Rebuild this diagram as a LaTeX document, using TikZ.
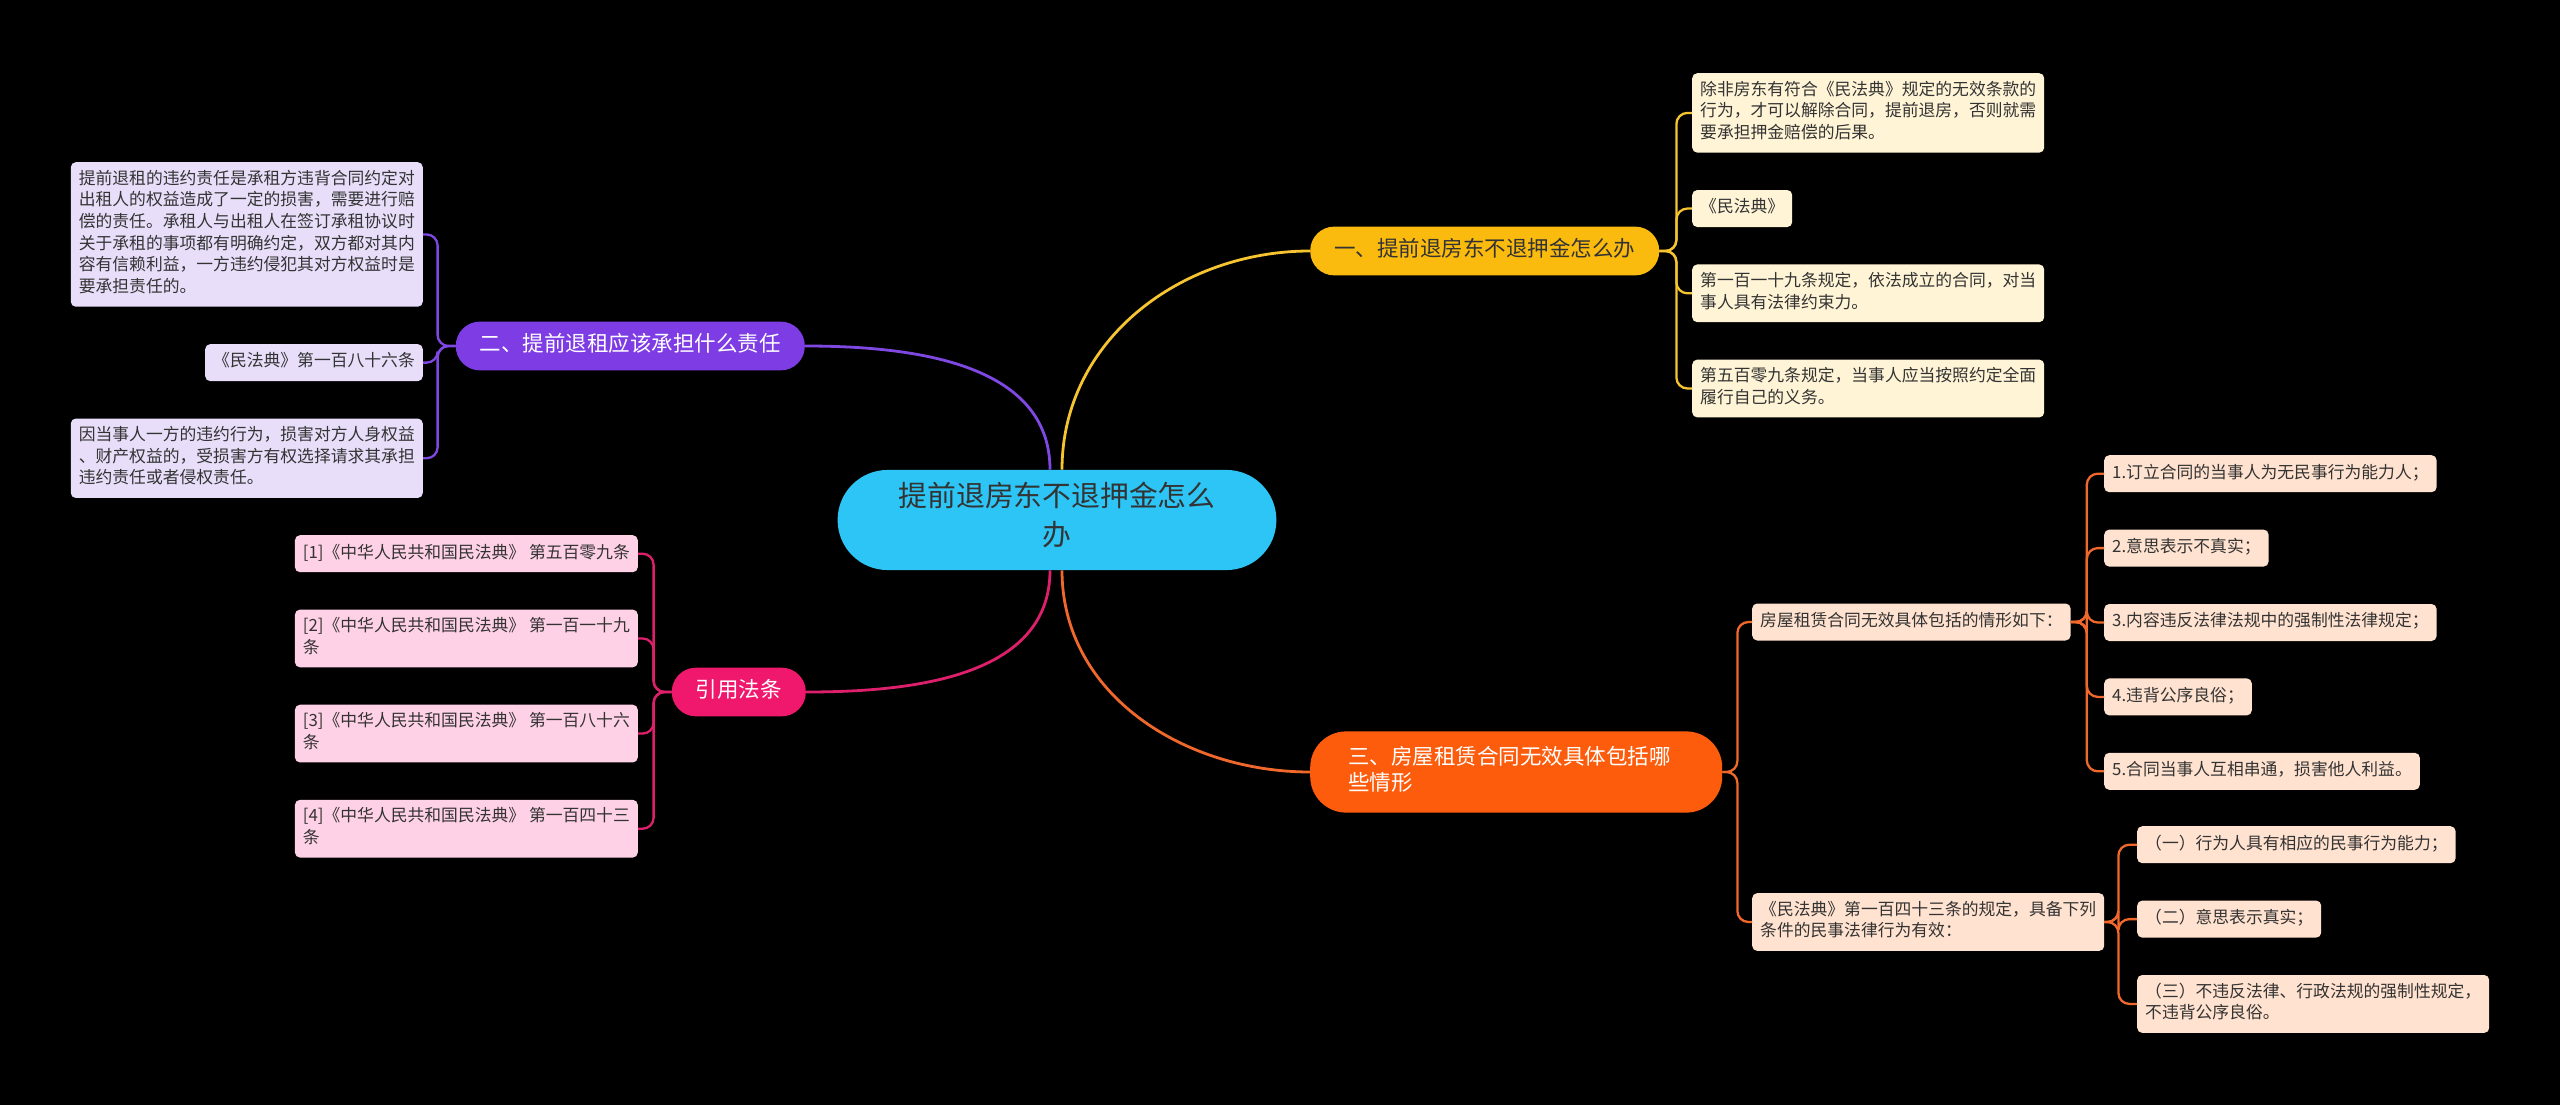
\documentclass[tikz,border=0pt]{standalone}
\usepackage{fontspec}
\newfontfamily\zhfont{Noto Sans CJK SC}
\usepackage{xcolor}
\usepackage{tikz}
\usetikzlibrary{positioning}
\definecolor{rootblue}{RGB}{44,197,246}
\definecolor{ygold}{RGB}{250,186,14}
\definecolor{yline}{RGB}{246,196,48}
\definecolor{ycream}{RGB}{255,244,214}
\definecolor{ppurple}{RGB}{125,60,228}
\definecolor{pline}{RGB}{128,72,226}
\definecolor{plav}{RGB}{232,222,250}
\definecolor{kpink}{RGB}{240,24,108}
\definecolor{kline}{RGB}{222,32,108}
\definecolor{kleaf}{RGB}{255,209,230}
\definecolor{oorange}{RGB}{252,92,12}
\definecolor{oline}{RGB}{240,104,44}
\definecolor{opeach}{RGB}{255,226,207}
\definecolor{darktext}{RGB}{51,51,51}
\tikzset{
  rootnode/.style={rectangle, fill=rootblue, rounded corners=50pt, align=center, text=darktext, font=\zhfont\fontsize{28.8}{39}\selectfont, inner xsep=61pt, inner ysep=12.5pt, execute at begin node=\strut, execute at end node=\strut},
  branch/.style={rectangle, rounded corners=24pt, align=left, font=\zhfont\fontsize{21.5}{25}\selectfont, inner xsep=24pt, inner ysep=11.5pt, execute at begin node=\strut, execute at end node=\strut},
  leaf/.style={rectangle, rounded corners=5pt, align=left, text=darktext, font=\zhfont\fontsize{16.8}{21.7}\selectfont, inner xsep=8pt, inner ysep=7.65pt, execute at begin node=\strut, execute at end node=\strut},
  yleaf/.style={leaf, fill=ycream},
  pleaf/.style={leaf, fill=plav},
  kleaf/.style={leaf, fill=kleaf},
  oleaf/.style={leaf, fill=opeach},
  link/.style={line width=2.3pt, rounded corners=11pt},
  curve/.style={line width=2.8pt},
}

\begin{document}
\begin{tikzpicture}[x=1pt, y=1pt]
  \useasboundingbox (0,0) rectangle (2560,-1105);
  \fill[black] (0,0) rectangle (2560,-1105);

  \node[rootnode] (root) at (1057,-520) {提前退房东不退押金怎么\\办};

  \node[branch, fill=ygold, text=darktext, anchor=west] (one) at (1310,-251) {一、提前退房东不退押金怎么办};
  \node[branch, fill=ppurple, text=white, anchor=east] (two) at (805,-346) {二、提前退租应该承担什么责任};
  \node[branch, fill=kpink, text=white, anchor=east] (cite) at (806,-692) {引用法条};
  \node[branch, fill=oorange, text=white, anchor=west, rounded corners=36pt, text width=336pt, inner xsep=38pt, inner ysep=14.5pt] (three) at (1310,-772) {三、房屋租赁合同无效具体包括哪\\些情形};

  \node[yleaf, anchor=north west] (y1) at (1692,-73) {除非房东有符合《民法典》规定的无效条款的\\行为，才可以解除合同，提前退房，否则就需\\要承担押金赔偿的后果。};
  \node[yleaf, below=37pt of y1.south west, anchor=north west] (y2) {《民法典》};
  \node[yleaf, below=37pt of y2.south west, anchor=north west] (y3) {第一百一十九条规定，依法成立的合同，对当\\事人具有法律约束力。};
  \node[yleaf, below=37pt of y3.south west, anchor=north west] (y4) {第五百零九条规定，当事人应当按照约定全面\\履行自己的义务。};

  \node[pleaf, anchor=north east] (p1) at (423,-162) {提前退租的违约责任是承租方违背合同约定对\\出租人的权益造成了一定的损害，需要进行赔\\偿的责任。承租人与出租人在签订承租协议时\\关于承租的事项都有明确约定，双方都对其内\\容有信赖利益，一方违约侵犯其对方权益时是\\要承担责任的。};
  \node[pleaf, below=37pt of p1.south east, anchor=north east] (p2) {《民法典》第一百八十六条};
  \node[pleaf, below=37pt of p2.south east, anchor=north east] (p3) {因当事人一方的违约行为，损害对方人身权益\\、财产权益的，受损害方有权选择请求其承担\\违约责任或者侵权责任。};

  \node[kleaf, anchor=north east] (ref1) at (638,-535) {[1]《中华人民共和国民法典》 第五百零九条};
  \node[kleaf, below=37pt of ref1.south east, anchor=north east] (ref2) {[2]《中华人民共和国民法典》 第一百一十九\\条};
  \node[kleaf, below=37pt of ref2.south east, anchor=north east] (ref3) {[3]《中华人民共和国民法典》 第一百八十六\\条};
  \node[kleaf, below=37pt of ref3.south east, anchor=north east] (ref4) {[4]《中华人民共和国民法典》 第一百四十三\\条};

  \node[oleaf, anchor=west] (t1) at (1752,-622) {房屋租赁合同无效具体包括的情形如下：};
  \node[oleaf, anchor=west] (t2) at (1752,-922) {《民法典》第一百四十三条的规定，具备下列\\条件的民事法律行为有效：};

  \node[oleaf, anchor=north west] (r1) at (2104,-455) {1.订立合同的当事人为无民事行为能力人；};
  \node[oleaf, below=37pt of r1.south west, anchor=north west] (r2) {2.意思表示不真实；};
  \node[oleaf, below=37pt of r2.south west, anchor=north west] (r3) {3.内容违反法律法规中的强制性法律规定；};
  \node[oleaf, below=37pt of r3.south west, anchor=north west] (r4) {4.违背公序良俗；};
  \node[oleaf, below=37pt of r4.south west, anchor=north west] (r5) {5.合同当事人互相串通，损害他人利益。};

  \node[oleaf, anchor=north west] (m1) at (2137,-826) {（一）行为人具有相应的民事行为能力；};
  \node[oleaf, below=37pt of m1.south west, anchor=north west] (m2) {（二）意思表示真实；};
  \node[oleaf, below=37pt of m2.south west, anchor=north west] (m3) {（三）不违反法律、行政法规的强制性规定，\\不违背公序良俗。};

  \draw[curve, yline] ([xshift=5pt]root.north) to[out=90, in=180] (one.west);
  \draw[curve, pline] ([xshift=-7pt]root.north) to[out=90, in=0] (two.east);
  \draw[curve, kline] ([xshift=-7pt]root.south) to[out=-90, in=0] (cite.east);
  \draw[curve, oline] ([xshift=5pt]root.south) to[out=-90, in=180] (three.west);

  \draw[link, yline] (one.east) -- ++(17,0) |- (y1.west);
  \draw[link, yline] (one.east) -- ++(17,0) |- (y2.west);
  \draw[link, yline] (one.east) -- ++(17,0) |- (y3.west);
  \draw[link, yline] (one.east) -- ++(17,0) |- (y4.west);

  \draw[link, pline] (two.west) -- ++(-18,0) |- (p1.east);
  \draw[link, pline] (two.west) -- ++(-18,0) |- (p2.east);
  \draw[link, pline] (two.west) -- ++(-18,0) |- (p3.east);

  \draw[link, kline] (cite.west) -- ++(-18,0) |- (ref1.east);
  \draw[link, kline] (cite.west) -- ++(-18,0) |- (ref2.east);
  \draw[link, kline] (cite.west) -- ++(-18,0) |- (ref3.east);
  \draw[link, kline] (cite.west) -- ++(-18,0) |- (ref4.east);

  \draw[link, oline] (three.east) -- ++(15,0) |- (t1.west);
  \draw[link, oline] (three.east) -- ++(15,0) |- (t2.west);

  \draw[link, oline] (t1.east) -- ++(16,0) |- (r1.west);
  \draw[link, oline] (t1.east) -- ++(16,0) |- (r2.west);
  \draw[link, oline] (t1.east) -- ++(16,0) |- (r3.west);
  \draw[link, oline] (t1.east) -- ++(16,0) |- (r4.west);
  \draw[link, oline] (t1.east) -- ++(16,0) |- (r5.west);

  \draw[link, oline] (t2.east) -- ++(14,0) |- (m1.west);
  \draw[link, oline] (t2.east) -- ++(14,0) |- (m2.west);
  \draw[link, oline] (t2.east) -- ++(14,0) |- (m3.west);
\end{tikzpicture}
\end{document}
